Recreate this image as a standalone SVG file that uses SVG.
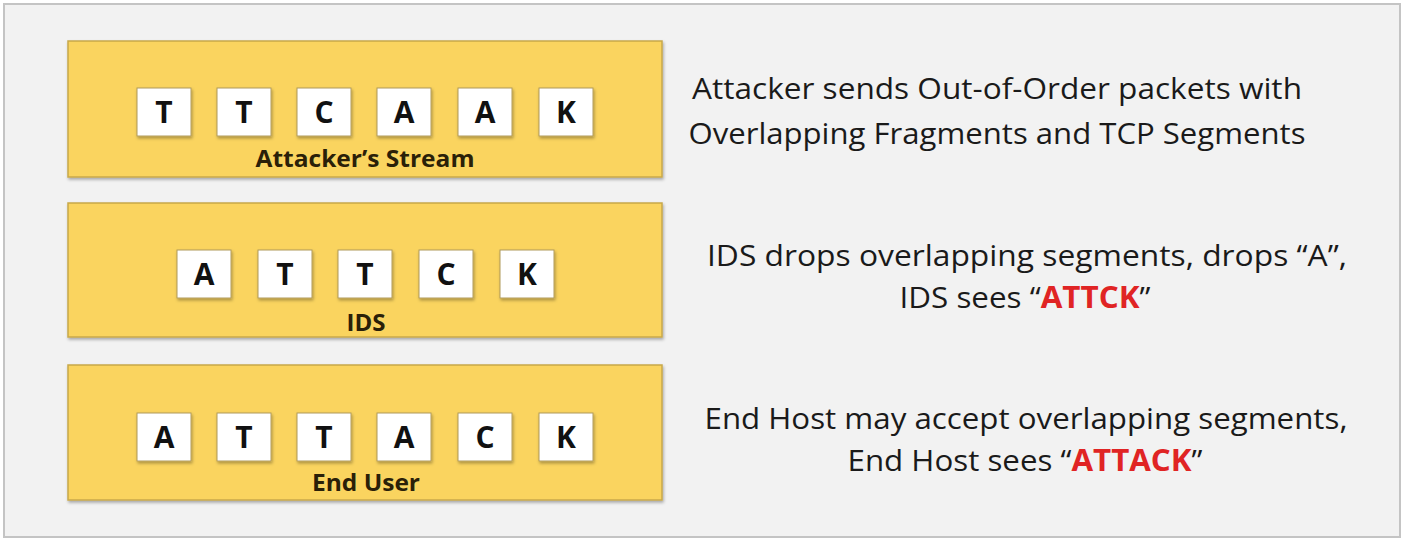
<svg xmlns="http://www.w3.org/2000/svg" width="1404" height="540" viewBox="0 0 1404 540">
<defs>
<filter id="sh" x="-10%" y="-10%" width="130%" height="140%">
<feDropShadow dx="1" dy="2" stdDeviation="1.5" flood-color="#000" flood-opacity="0.3"/>
</filter>
<style>
.panel{fill:#fad45f;stroke:#c8a84a;stroke-width:1.5}
.tile{fill:#ffffff;stroke:#b09a5a;stroke-width:1}
.let{font-family:"Open Sans","Liberation Sans",sans-serif;font-weight:bold;font-size:30px;fill:#111;text-anchor:middle}
.lbl{font-family:"Open Sans","Liberation Sans",sans-serif;font-weight:bold;font-size:23px;fill:#2a2008;text-anchor:middle}
.desc{font-family:"Open Sans","Liberation Sans",sans-serif;font-size:30px;fill:#1a1a1a;text-anchor:middle}
.red{fill:#e02424;font-weight:bold}
</style>
</defs>
<rect x="0" y="0" width="1404" height="540" fill="#ffffff"/>
<rect x="4" y="4" width="1396" height="533" fill="#f2f2f2" stroke="#c4c4c4" stroke-width="2"/>

<g id="attacker-stream">
<rect class="panel" x="68" y="41" width="594" height="136" filter="url(#sh)"/>
<g filter="url(#sh)">
<rect class="tile" x="137" y="88" width="54" height="48"/>
<rect class="tile" x="217" y="88" width="54" height="48"/>
<rect class="tile" x="297" y="88" width="54" height="48"/>
<rect class="tile" x="377" y="88" width="54" height="48"/>
<rect class="tile" x="458" y="88" width="54" height="48"/>
<rect class="tile" x="539" y="88" width="54" height="48"/>
</g>
<text class="let" x="164" y="123">T</text>
<text class="let" x="244" y="123">T</text>
<text class="let" x="324" y="123">C</text>
<text class="let" x="404" y="123">A</text>
<text class="let" x="485" y="123">A</text>
<text class="let" x="566" y="123">K</text>
<text class="lbl" x="365" y="167" textLength="219" lengthAdjust="spacingAndGlyphs">Attacker’s Stream</text>
</g>

<g id="ids">
<rect class="panel" x="68" y="203" width="594" height="134" filter="url(#sh)"/>
<g filter="url(#sh)">
<rect class="tile" x="177" y="250" width="54" height="48"/>
<rect class="tile" x="258" y="250" width="54" height="48"/>
<rect class="tile" x="338" y="250" width="54" height="48"/>
<rect class="tile" x="419" y="250" width="54" height="48"/>
<rect class="tile" x="500" y="250" width="54" height="48"/>
</g>
<text class="let" x="204" y="285">A</text>
<text class="let" x="285" y="285">T</text>
<text class="let" x="365" y="285">T</text>
<text class="let" x="446" y="285">C</text>
<text class="let" x="527" y="285">K</text>
<text class="lbl" x="366" y="331" textLength="39" lengthAdjust="spacingAndGlyphs">IDS</text>
</g>

<g id="end-user">
<rect class="panel" x="68" y="365" width="594" height="135" filter="url(#sh)"/>
<g filter="url(#sh)">
<rect class="tile" x="137" y="413" width="54" height="48"/>
<rect class="tile" x="217" y="413" width="54" height="48"/>
<rect class="tile" x="297" y="413" width="54" height="48"/>
<rect class="tile" x="377" y="413" width="54" height="48"/>
<rect class="tile" x="458" y="413" width="54" height="48"/>
<rect class="tile" x="539" y="413" width="54" height="48"/>
</g>
<text class="let" x="164" y="448">A</text>
<text class="let" x="244" y="448">T</text>
<text class="let" x="324" y="448">T</text>
<text class="let" x="404" y="448">A</text>
<text class="let" x="485" y="448">C</text>
<text class="let" x="566" y="448">K</text>
<text class="lbl" x="366" y="491" textLength="108" lengthAdjust="spacingAndGlyphs">End User</text>
</g>

<g id="descriptions">
<text class="desc" x="997" y="99" textLength="610" lengthAdjust="spacingAndGlyphs">Attacker sends Out-of-Order packets with</text>
<text class="desc" x="997" y="144" textLength="617" lengthAdjust="spacingAndGlyphs">Overlapping Fragments and TCP Segments</text>
<text class="desc" x="1027" y="266" textLength="640" lengthAdjust="spacingAndGlyphs">IDS drops overlapping segments, drops “A”,</text>
<text class="desc" x="1025" y="308" textLength="251" lengthAdjust="spacingAndGlyphs">IDS sees “<tspan class="red">ATTCK</tspan>”</text>
<text class="desc" x="1026" y="429" textLength="643" lengthAdjust="spacingAndGlyphs">End Host may accept overlapping segments,</text>
<text class="desc" x="1025" y="471" textLength="355" lengthAdjust="spacingAndGlyphs">End Host sees “<tspan class="red">ATTACK</tspan>”</text>
</g>
<g id="connectors"/>
</svg>
